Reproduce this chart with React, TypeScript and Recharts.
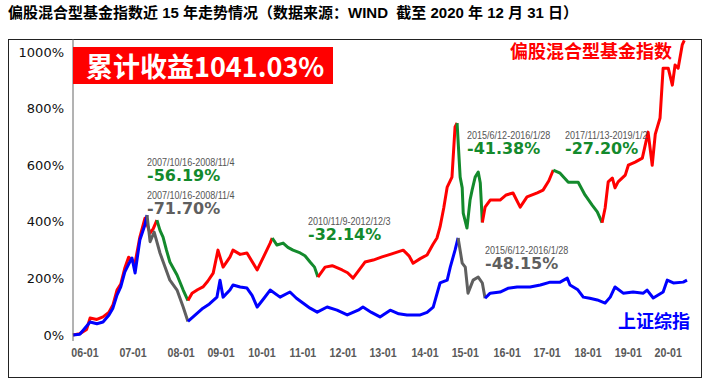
import { LineChart, Line, XAxis, YAxis } from 'recharts'

// time axis: months since 2005-12-31, values: cumulative return in %
const xTickPos = [3.5, 17.6, 31.7, 43.4, 55.4, 67.4, 79.2, 90.9, 103.2, 115.0, 127.3, 139.0, 151.0, 162.8, 174.5]
const xTickLabels = ['06-01', '07-01', '08-01', '09-01', '10-01', '11-01', '12-01', '13-01', '14-01', '15-01', '16-01', '17-01', '18-01', '19-01', '20-01']
const yTicks = [0, 200, 400, 600, 800, 1000]

// 偏股混合型基金指数
const fundRise1 = [[0, 0], [2, 5], [4, 20], [5, 60], [7, 55], [8.8, 64], [10.5, 80], [11.7, 106], [12.9, 159], [14, 180], [15.2, 237], [16.3, 275], [17.3, 265], [18.2, 255], [19.6, 346], [21.1, 413], [22.6, 360], [23.5, 375], [24.6, 406]]
const fundDrop1 = [[24.6, 406], [25.5, 370], [26.4, 346], [27.4, 300], [28.4, 258], [30.5, 212], [32.3, 159], [33.7, 122]]
const fundRise2 = [[33.7, 122], [34.9, 148], [36.5, 160], [38.1, 170], [39.5, 190], [41.1, 219], [42.5, 300], [44.0, 240], [46.0, 275], [46.9, 300], [49, 285], [51.0, 290], [52.5, 260], [54.0, 230], [56, 280], [57.8, 325], [58.4, 343]]
const fundDrop2 = [[58.4, 343], [59.8, 318], [61.6, 325], [63, 310], [64.5, 300], [66.6, 290], [68, 280], [69.5, 258], [70.8, 240], [71.8, 205]]
const fundRise3 = [[71.8, 205], [73.9, 240], [76, 245], [78.9, 230], [80.5, 220], [82.1, 201], [85.6, 258], [88, 265], [90.6, 276], [93, 285], [96.8, 300], [98.5, 280], [99.7, 254], [101.8, 270], [103.8, 283], [105.5, 320], [106.7, 343], [107.6, 382], [108.7, 450], [109.7, 523], [111.1, 558], [112.0, 735], [112.6, 749]]
const fundDrop3 = [[112.6, 749], [113.5, 558], [114.1, 520], [114.4, 431], [115.5, 378], [116.4, 477], [117.0, 512], [117.9, 558], [118.8, 576], [119.4, 537], [120.0, 398]]
const fundRise4 = [[120.0, 398], [120.8, 452], [122.3, 477], [125.2, 477], [127, 495], [129.0, 502], [131.1, 452], [133.1, 488], [136.1, 502], [137.8, 512], [139.5, 545], [140.8, 583]]
const fundDrop4 = [[140.8, 583], [142.8, 572], [145.2, 540], [148.1, 540], [150.1, 495], [152.2, 459], [153.7, 435], [155.1, 397]]
const fundRise5 = [[155.1, 397], [156.0, 449], [156.9, 541], [158.1, 555], [158.9, 520], [159.8, 541], [161.9, 565], [162.8, 600], [164.8, 611], [166.9, 625], [168.6, 717], [169.8, 600], [170.7, 710], [172.1, 767], [173.0, 943], [174.5, 943], [175.7, 883], [176.5, 954], [177.4, 943], [178.6, 1025], [179.2, 1041]]

// 上证综指
const sseRise1 = [[0, 0], [2, 3], [5, 46], [7, 40], [8.8, 46], [10.5, 70], [11.7, 95], [12.9, 141], [14, 170], [15.2, 223], [16.3, 250], [17.3, 272], [18.2, 219], [19.6, 336], [21.1, 390], [21.7, 424]]
const sseDrop1 = [[21.7, 424], [22.6, 330], [23.8, 364], [25.5, 290], [26.4, 260], [28.4, 194], [30.5, 159], [32.3, 99], [33.7, 48]]
const sseRise2 = [[33.7, 48], [35.2, 64], [38.1, 95], [40, 110], [42.2, 134], [43.1, 194], [44.0, 134], [46.0, 159], [46.9, 177], [49, 170], [51.0, 166], [52.5, 140], [54.0, 99], [56, 130], [57.8, 159], [60.7, 134], [63.6, 152], [65.5, 130], [67.4, 113], [69.5, 95], [71.6, 81], [74.5, 99], [77.4, 88], [80.4, 71], [83.6, 88], [85.0, 99], [87.5, 80], [90.0, 64], [93.0, 88], [95.5, 75], [97.9, 71], [101.8, 71], [103.8, 80], [105.6, 99], [107.6, 184], [109.7, 194], [110.6, 240], [112.0, 300], [112.9, 343]]
const sseDrop2 = [[112.9, 343], [114.1, 254], [115.0, 240], [115.8, 148], [117.3, 194], [118.8, 205], [120.0, 184], [120.8, 130]]
const sseRise3 = [[120.8, 130], [122.3, 148], [125.2, 152], [127.5, 165], [130.2, 170], [134.0, 170], [137.0, 177], [139.9, 187], [142.8, 187], [144.9, 201], [145.7, 177], [148, 160], [149.6, 134], [151.5, 130], [153.7, 124], [156.0, 113], [157.5, 134], [158.9, 170], [161.3, 148], [164.2, 152], [167.2, 148], [168.3, 159], [170.1, 131], [173.0, 152], [174.2, 194], [176.0, 184], [178.9, 187], [180.0, 194]]

const RED = '#ff0000'
const GREEN = '#138a2c'
const BLUE = '#0000ff'
const GRAY = '#5f5f5f'

const series = [
  { name: 'fundRise1', pts: fundRise1, color: RED },
  { name: 'fundDrop1', pts: fundDrop1, color: GREEN },
  { name: 'fundRise2', pts: fundRise2, color: RED },
  { name: 'fundDrop2', pts: fundDrop2, color: GREEN },
  { name: 'fundRise3', pts: fundRise3, color: RED },
  { name: 'fundDrop3', pts: fundDrop3, color: GREEN },
  { name: 'fundRise4', pts: fundRise4, color: RED },
  { name: 'fundDrop4', pts: fundDrop4, color: GREEN },
  { name: 'fundRise5', pts: fundRise5, color: RED },
  { name: 'sseRise1', pts: sseRise1, color: BLUE },
  { name: 'sseDrop1', pts: sseDrop1, color: GRAY },
  { name: 'sseRise2', pts: sseRise2, color: BLUE },
  { name: 'sseDrop2', pts: sseDrop2, color: GRAY },
  { name: 'sseRise3', pts: sseRise3, color: BLUE },
]

const cjk = '"Noto Sans CJK SC", sans-serif'
const arial = '"Liberation Sans", "Noto Sans CJK SC", sans-serif'
const wide = '"DejaVu Sans", "Noto Sans CJK SC", sans-serif'

const abs = (left: number, top: number, extra: React.CSSProperties = {}): React.CSSProperties => ({
  position: 'absolute',
  left,
  top,
  whiteSpace: 'nowrap',
  lineHeight: 1,
  ...extra,
})

// condensed look: Arial metrics squeezed horizontally
const squeeze = (k: number): React.CSSProperties => ({ transform: `scaleX(${k})`, transformOrigin: '0 0' })

function Note({ left, top, date, value, color }: { left: number; top: number; date: string; value: string; color: string }) {
  return (
    <>
      <div style={abs(left, top, { fontFamily: arial, fontSize: 11, color: '#555', ...squeeze(0.82) })}>{date}</div>
      <div style={abs(left, top + 11, { fontFamily: wide, fontSize: 16, fontWeight: 'bold', color })}>{value}</div>
    </>
  )
}

function XTick({ x, y, payload }: any) {
  const label = xTickLabels[xTickPos.indexOf(payload.value)] ?? ''
  return (
    <text
      transform={`translate(${x},${y}) scale(0.82,1)`}
      textAnchor="middle"
      dy="0.71em"
      fill="#595959"
      fontSize={13}
      fontWeight="bold"
      fontFamily={arial}
    >
      {label}
    </text>
  )
}

export default function App() {
  return (
    <div style={{ position: 'absolute', left: 0, top: 0, width: 708, height: 383, background: '#fff', overflow: 'hidden' }}>
      <div style={abs(8, 5, { fontFamily: arial, fontSize: 15, fontWeight: 'bold', color: '#000' })}>
        偏股混合型基金指数近 15 年走势情况（数据来源：WIND&nbsp;&nbsp;截至 2020 年 12 月 31 日）
      </div>
      <div style={{ position: 'absolute', left: 8, top: 39, width: 694, height: 339, border: '1px solid #222', boxSizing: 'border-box' }} />

      <div style={{ position: 'absolute', left: 0, top: 0 }}>
        <LineChart width={708} height={383} margin={{ top: 39, right: 21, bottom: 0, left: 8 }}>
          <XAxis
            dataKey="t"
            type="number"
            domain={[0, 180]}
            ticks={xTickPos}
            axisLine={false}
            tickLine={false}
            tickSize={0}
            tickMargin={7}
            height={42}
            interval={0}
            allowDuplicatedCategory={false}
            tick={<XTick />}
          />
          <YAxis
            dataKey="v"
            type="number"
            domain={[-21, 1046]}
            ticks={yTicks}
            tickFormatter={(v) => `${v}%`}
            width={65}
            tickLine={false}
            tickSize={0}
            tickMargin={9}
            axisLine={{ stroke: '#666' }}
            tick={{ fill: '#111', fontSize: 13, fontFamily: wide }}
            allowDataOverflow
          />
          {series.map((s) => (
            <Line
              key={s.name}
              data={s.pts.map(([t, v]) => ({ t, v }))}
              dataKey="v"
              type="linear"
              stroke={s.color}
              strokeWidth={3}
              strokeLinejoin="round"
              dot={false}
              activeDot={false}
              isAnimationActive={false}
            />
          ))}
        </LineChart>
      </div>

      <div
        style={abs(73, 47, {
          width: 260,
          height: 37,
          background: RED,
          color: '#fff',
          fontFamily: cjk,
          fontSize: 27,
          fontWeight: 'bold',
          lineHeight: '37px',
          paddingLeft: 13,
          boxSizing: 'border-box',
        })}
      >
        累计收益1041.03%
      </div>
      <div style={abs(510, 41, { fontFamily: cjk, fontSize: 18, fontWeight: 'bold', color: RED })}>偏股混合型基金指数</div>
      <div style={abs(618, 311, { fontFamily: cjk, fontSize: 18, fontWeight: 'bold', color: BLUE })}>上证综指</div>

      <Note left={147} top={157} date="2007/10/16-2008/11/4" value="-56.19%" color={GREEN} />
      <Note left={147} top={190} date="2007/10/16-2008/11/4" value="-71.70%" color={GRAY} />
      <Note left={308} top={216} date="2010/11/9-2012/12/3" value="-32.14%" color={GREEN} />
      <Note left={467} top={130} date="2015/6/12-2016/1/28" value="-41.38%" color={GREEN} />
      <Note left={565} top={130} date="2017/11/13-2019/1/2" value="-27.20%" color={GREEN} />
      <Note left={485} top={245} date="2015/6/12-2016/1/28" value="-48.15%" color={GRAY} />
    </div>
  )
}
